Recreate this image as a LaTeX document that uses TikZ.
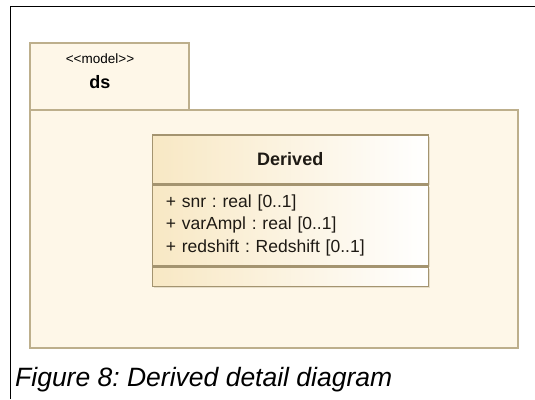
\documentclass[tikz,border=0pt]{standalone}
\usepackage{fontspec}
\setmainfont{Liberation Sans}
\usetikzlibrary{positioning,shadows}
\definecolor{pkgfill}{HTML}{FEF7E8}
\definecolor{pkgline}{HTML}{BDAF8C}
\definecolor{clsfill}{HTML}{F8E8C4}
\definecolor{clsline}{HTML}{A49470}
\definecolor{clstext}{HTML}{1E1A14}
\frenchspacing
\begin{document}
\begin{tikzpicture}[x=1pt, y=-1pt,
		pkgbox/.style={rectangle, draw=pkgline, fill=pkgfill, line width=1.5pt, inner sep=0, anchor=north west},
		clsbox/.style={rectangle, draw=clsline, line width=1.5pt, left color=clsfill, right color=white, inner sep=0, minimum width=276pt, text=clstext},
		shadowed/.style={drop shadow={shadow xshift=2pt, shadow yshift=-2pt, opacity=.25, fill=clsline}}]
		\useasboundingbox (0,0) rectangle (535,399);
		\draw[line width=1pt] (10,399) -- (10,6) -- (535,6);
		% package
		\node (pkgtab) at (29,42) [pkgbox, minimum width=159pt, minimum height=67pt] {};
		\node (pkgbody) at (29,109) [pkgbox, minimum width=488pt, minimum height=238pt] {};
		\node (stereo) at (100,59) [font=\fontsize{13.5}{15}\selectfont] {{<}{<}model{>}{>}};
		\node (pkgname) at (100,82) [font=\fontsize{18}{20}\selectfont\bfseries] {ds};
		% class
		\node (hdr) at (151.5,134) [clsbox, shadowed, anchor=north west, minimum height=48.5pt, font=\fontsize{18}{20}\selectfont\bfseries] {Derived};
		\node (attrs) [clsbox, shadowed, below=0pt of hdr, minimum height=80.5pt, text width=249pt, inner xsep=13.5pt, align=left, font=\fontsize{17.5}{22.5}\selectfont] {+ snr : real [0..1]\\+ varAmpl : real [0..1]\\+ redshift : Redshift [0..1]};
		\node (ops) [clsbox, shadowed, below=0pt of attrs, minimum height=19.5pt] {};
		% caption
		\node (caption) at (15,386) [anchor=base west, inner sep=0, font=\fontsize{26.5}{28}\selectfont\itshape] {Figure 8: Derived detail diagram};
	\end{tikzpicture}
\end{document}
